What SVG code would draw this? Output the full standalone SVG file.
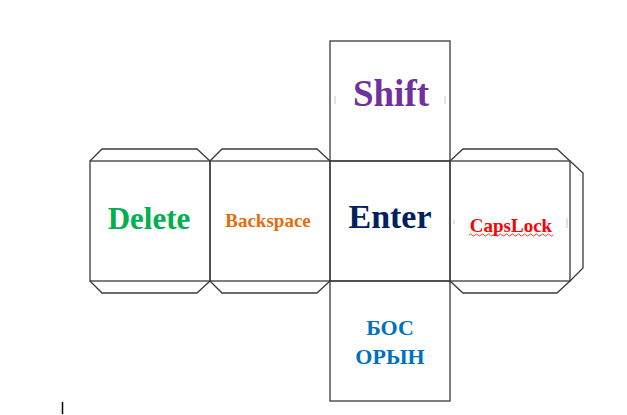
<svg xmlns="http://www.w3.org/2000/svg" width="627" height="415" viewBox="0 0 627 415">
<style>
.ln{fill:none;stroke:#3a3a3a;stroke-width:1.3;stroke-linejoin:miter}
.t{font-family:"Liberation Serif","Times New Roman",serif;font-weight:bold;text-anchor:middle}
.tick{stroke:#c8c8c8;stroke-width:1}
</style>
<rect width="627" height="415" fill="#ffffff"/>
<g id="face-shift">
<rect class="ln" x="330" y="41" width="120" height="120"/>
<line class="tick" x1="335" y1="96" x2="335" y2="104"/>
<line class="tick" x1="445" y1="96" x2="445" y2="104"/>
<text class="t" x="391" y="106" font-size="37" fill="#7030A0">Shift</text>
</g>
<g id="face-delete">
<rect class="ln" x="90" y="161" width="120" height="120"/>
<polyline class="ln" points="90,161 102,149 197,149 210,161"/>
<polyline class="ln" points="90,281 102,293 197,293 210,281"/>
<text class="t" x="149" y="229" font-size="31" fill="#00B050">Delete</text>
</g>
<g id="face-backspace">
<rect class="ln" x="210" y="161" width="120" height="120"/>
<polyline class="ln" points="210,161 222,149 317,149 330,161"/>
<polyline class="ln" points="210,281 222,293 317,293 330,281"/>
<text class="t" x="268" y="227" font-size="19" fill="#E46C0A">Backspace</text>
</g>
<g id="face-enter">
<rect class="ln" x="330" y="161" width="120" height="120"/>
<text class="t" x="390" y="228" font-size="34" fill="#002060">Enter</text>
</g>
<g id="face-capslock">
<rect class="ln" x="450" y="161" width="120" height="120"/>
<polyline class="ln" points="450,161 463,149 557,149 570,161"/>
<polyline class="ln" points="450,281 463,293 557,293 570,281"/>
<polyline class="ln" points="570,161 583,173 583,268 570,281"/>
<line class="tick" x1="454" y1="220" x2="454" y2="224"/>
<line class="tick" x1="567" y1="218" x2="567" y2="228"/>
<text class="t" x="511" y="232" font-size="19" fill="#FF0000">CapsLock</text>
<path d="M469,235 q1.5,-2 3,0 t3,0 t3,0 t3,0 t3,0 t3,0 t3,0 t3,0 t3,0 t3,0 t3,0 t3,0 t3,0 t3,0 t3,0 t3,0 t3,0 t3,0 t3,0 t3,0 t3,0 t3,0 t3,0 t3,0 t3,0 t3,0 t3,0 t3,0" fill="none" stroke="#FF0000" stroke-width="0.8"/>
</g>
<g id="face-bos-oryn">
<rect class="ln" x="330" y="281" width="120" height="120"/>
<text class="t" x="390" y="335" font-size="22" fill="#0070C0">БОС</text>
<text class="t" x="390" y="364" font-size="22" fill="#0070C0">ОРЫН</text>
</g>
<g id="connectors"></g>
<line x1="62.5" y1="402" x2="62.5" y2="414" stroke="#000000" stroke-width="1.5"/>
</svg>
